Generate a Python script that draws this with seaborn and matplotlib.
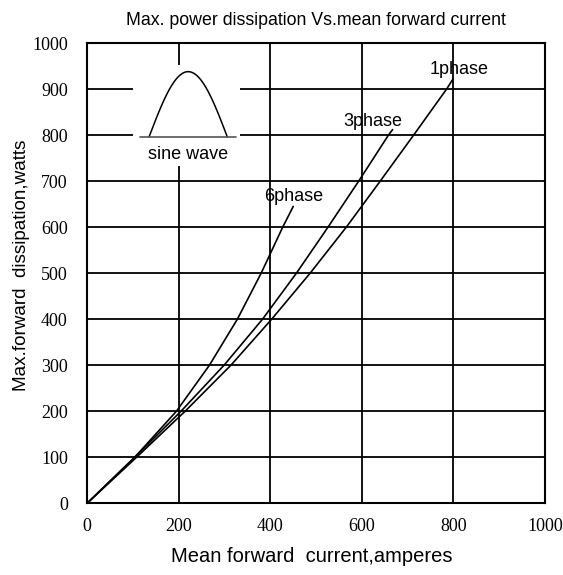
import numpy as np
import pandas as pd
import matplotlib
matplotlib.use('Agg')
import matplotlib.pyplot as plt
import seaborn as sns
from matplotlib.patches import Rectangle

# curve points (current in A, dissipation in W)
cur_1ph = [0, 108, 214, 314, 403, 487, 566, 640, 713, 785, 799]
pw_1ph = [0, 100, 200, 300, 400, 500, 600, 700, 800, 900, 922]
cur_3ph = [0, 104, 205, 299, 383, 457, 526, 593, 658, 667]
pw_3ph = [0, 100, 200, 300, 400, 500, 600, 700, 800, 812]
cur_6ph = [0, 104, 195, 267, 328, 380, 427, 450]
pw_6ph = [0, 100, 200, 300, 400, 500, 600, 645]

labels = ['1phase', '3phase', '6phase']
label_pos = [(813, 942), (624, 829), (452, 667)]
ticks = [0, 200, 400, 600, 800, 1000]
yticks = list(range(0, 1001, 100))

sns.set_theme(style='white')
plt.rcParams['font.family'] = ['Liberation Sans', 'DejaVu Sans']
plt.rcParams['text.color'] = 'black'
plt.rcParams['axes.labelcolor'] = 'black'
plt.rcParams['xtick.color'] = 'black'
plt.rcParams['ytick.color'] = 'black'

fig = plt.figure(figsize=(5.63, 5.75), dpi=100)
ax = fig.add_axes([0.155, 0.125, 0.813, 0.8])

for cx, py in [(cur_1ph, pw_1ph), (cur_3ph, pw_3ph), (cur_6ph, pw_6ph)]:
    sns.lineplot(x=cx, y=py, ax=ax, color='black', lw=1.2, sort=False,
                 estimator=None, zorder=3)

ax.set_xlim(0, 1000)
ax.set_ylim(0, 1000)
ax.set_xticks(ticks)
ax.set_yticks(yticks)
ax.grid(True, color='black', lw=1.3)
ax.set_axisbelow(True)
for s in ax.spines.values():
    s.set_color('black')
    s.set_linewidth(1.5)
ax.tick_params(length=0, pad=11)
ax.tick_params(axis='y', pad=14)
for t in ax.get_xticklabels() + ax.get_yticklabels():
    t.set_fontfamily('Liberation Serif')
    t.set_fontsize(13)

ax.set_xlabel('Mean forward  current,amperes', fontsize=14.5)
ax.set_ylabel('Max.forward  dissipation,watts', fontsize=13.6)
ax.xaxis.set_label_coords(0.49, -0.095)
ax.yaxis.set_label_coords(-0.125, 0.516)
ax.set_title('Max. power dissipation Vs.mean forward current', fontsize=12.8, pad=13)

for lab, (lx, ly) in zip(labels, label_pos):
    ax.text(lx, ly, lab, fontsize=13, ha='center', va='center', zorder=4)

# sine wave sketch in the upper left corner
ax.add_patch(Rectangle((100, 732), 234, 221, facecolor='white', edgecolor='none', zorder=1))
t = np.linspace(0, np.pi, 60)
ax.plot(135 + (306 - 135) * t / np.pi, 796 + 142 * np.sin(t), color='black', lw=1.1, zorder=3)
ax.plot([115, 326], [796, 796], color='#555555', lw=1.2, zorder=3)
ax.text(221, 757, 'sine wave', fontsize=13, ha='center', va='center', zorder=4)

fig.savefig('out.png', dpi=100)
